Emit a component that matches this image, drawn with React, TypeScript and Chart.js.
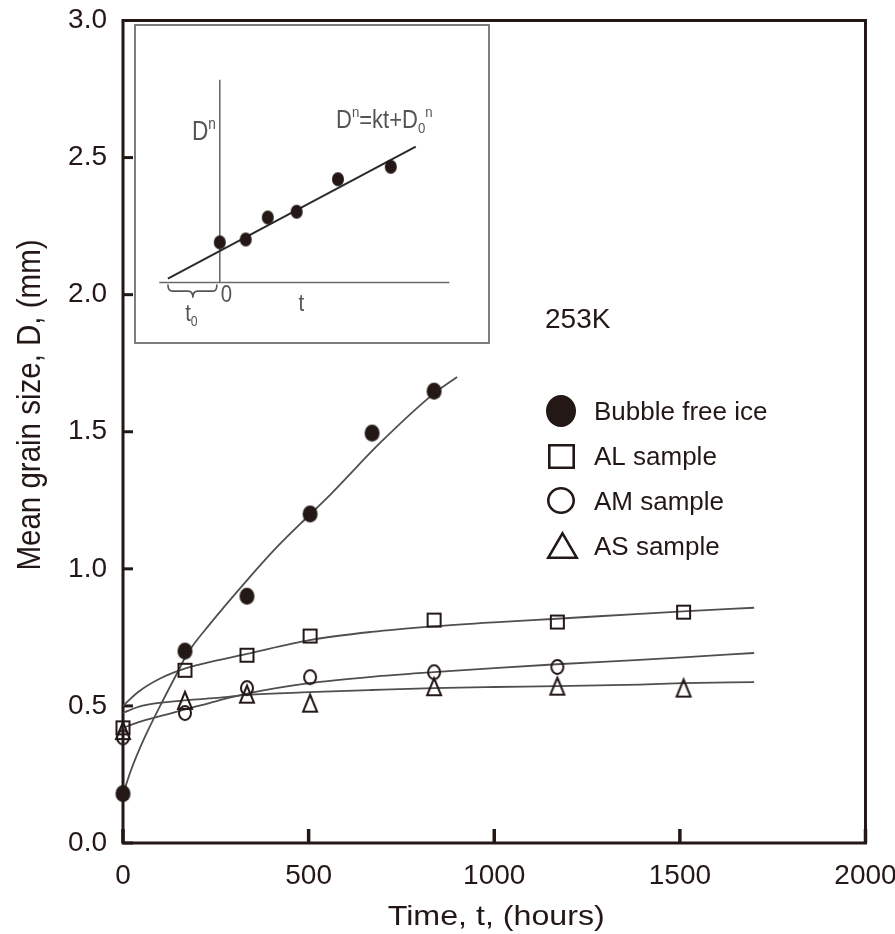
import React, { useEffect, useRef } from 'react';
import { Chart, registerables } from 'chart.js';

Chart.register(...registerables);

const INK = '#231815';
const FIT = '#4f4f4f';
const SANS = "'Liberation Sans', Arial, Helvetica, sans-serif";

// ---------- main chart data ----------
const seriesLabels = ['Bubble free ice', 'AL sample', 'AM sample', 'AS sample'];

const bubbleT = [0, 167, 334, 504, 671, 838];
const bubbleD = [0.18, 0.70, 0.90, 1.20, 1.495, 1.648];

const alT = [0, 167, 334, 504, 838, 1170, 1510];
const alD = [0.42, 0.63, 0.685, 0.755, 0.813, 0.806, 0.842];

const amT = [0, 167, 334, 504, 838, 1170];
const amD = [0.385, 0.474, 0.565, 0.605, 0.623, 0.642];

const asT = [0, 167, 334, 504, 838, 1170, 1510];
const asD = [0.41, 0.52, 0.543, 0.51, 0.57, 0.572, 0.565];

// fitted curves
const bubbleFitT = [3, 20, 55, 100, 146, 173, 235, 335, 415, 505, 558, 693, 838, 900];
const bubbleFitD = [0.19, 0.26, 0.375, 0.5, 0.62, 0.69, 0.8, 0.96, 1.08, 1.2, 1.27, 1.46, 1.64, 1.7];

const alFitT = [0, 40, 100, 168, 250, 334, 502, 670, 836, 1000, 1168, 1392, 1508, 1700];
const alFitD = [0.5, 0.55, 0.6, 0.637, 0.665, 0.69, 0.74, 0.77, 0.79, 0.805, 0.818, 0.836, 0.845, 0.858];

const amFitT = [0, 40, 100, 168, 250, 334, 502, 670, 836, 1000, 1168, 1392, 1508, 1700];
const amFitD = [0.42, 0.44, 0.463, 0.487, 0.517, 0.545, 0.583, 0.606, 0.623, 0.638, 0.652, 0.668, 0.677, 0.693];

const asFitT = [0, 50, 165, 262, 334, 502, 670, 836, 1000, 1168, 1392, 1508, 1700];
const asFitD = [0.475, 0.5, 0.52, 0.53, 0.54, 0.55, 0.558, 0.565, 0.569, 0.572, 0.578, 0.583, 0.587];

const xTickLabels = ['0', '500', '1000', '1500', '2000'];
const yTickLabels = ['0.0', '0.5', '1.0', '1.5', '2.0', '2.5', '3.0'];

const xTitle = 'Time, t, (hours)';
const yTitle = 'Mean grain size, D, (mm)';
const tempLabel = '253K';

// ---------- inset (schematic) data ----------
const insetT = [0, 27, 50, 80, 123, 178];
const insetDn = [42, 45, 68, 74, 108, 121];
const insetFitT = [-54, 204];
const insetFitDn = [4, 142];
const insetVAxisT = [0, 0];
const insetVAxisDn = [0, 212];
const insetHAxisT = [-63, 239];
const insetHAxisDn = [0, 0];

function pts(xs: number[], ys: number[]) {
  return xs.map((x, i) => ({ x, y: ys[i] }));
}

function makeMarker(kind: string, w: number, h: number, lw: number, color: string) {
  const pad = Math.ceil(lw) + 1;
  const c = document.createElement('canvas');
  c.width = Math.round(w + pad * 2);
  c.height = Math.round(h + pad * 2);
  const ctx = c.getContext('2d')!;
  const cx = c.width / 2;
  const cy = c.height / 2;
  ctx.strokeStyle = color;
  ctx.fillStyle = color;
  ctx.lineWidth = lw;
  ctx.lineJoin = 'miter';
  ctx.beginPath();
  if (kind === 'dot') {
    ctx.ellipse(cx, cy, w / 2, h / 2, 0, 0, Math.PI * 2);
    ctx.fill();
  } else if (kind === 'ring') {
    ctx.ellipse(cx, cy, w / 2 - lw / 2, h / 2 - lw / 2, 0, 0, Math.PI * 2);
    ctx.stroke();
  } else if (kind === 'square') {
    ctx.rect(cx - w / 2 + lw / 2, cy - h / 2 + lw / 2, w - lw, h - lw);
    ctx.stroke();
  } else if (kind === 'triangle') {
    ctx.moveTo(cx, cy - h / 2 + lw / 2);
    ctx.lineTo(cx + w / 2 - lw / 2, cy + h / 2 - lw / 2);
    ctx.lineTo(cx - w / 2 + lw / 2, cy + h / 2 - lw / 2);
    ctx.closePath();
    ctx.stroke();
  }
  return c;
}

function stretchText(ctx: CanvasRenderingContext2D, text: string, x: number, y: number, sx: number, align: CanvasTextAlign) {
  ctx.save();
  ctx.translate(x, y);
  ctx.scale(sx, 1);
  ctx.textAlign = align;
  ctx.textBaseline = 'alphabetic';
  ctx.fillText(text, 0, 0);
  ctx.restore();
}

export default function App() {
  const mainRef = useRef<HTMLCanvasElement>(null);
  const insetRef = useRef<HTMLCanvasElement>(null);

  useEffect(() => {
    const dot = makeMarker('dot', 15, 17, 0, INK);
    const sq = makeMarker('square', 15, 15, 2, INK);
    const ring = makeMarker('ring', 14, 16, 2, INK);
    const tri = makeMarker('triangle', 16, 19, 2, INK);
    const legendMarkers = [
      makeMarker('dot', 30, 32, 0, INK),
      makeMarker('square', 27, 25, 2.6, INK),
      makeMarker('ring', 28, 27, 2.6, INK),
      makeMarker('triangle', 31, 27, 2.6, INK),
    ];

    const framePlugin = {
      id: 'frame',
      beforeDatasetsDraw(chart: any) {
        const { ctx, chartArea: a, scales } = chart;
        const x = scales.x;
        const y = scales.y;
        ctx.save();
        ctx.strokeStyle = INK;
        ctx.lineWidth = 3;
        ctx.strokeRect(a.left, a.top, a.right - a.left, a.bottom - a.top);
        ctx.lineWidth = 3.5;
        x.ticks.forEach((_t: any, i: number) => {
          const px = x.getPixelForTick(i);
          ctx.beginPath();
          ctx.moveTo(px, a.bottom);
          ctx.lineTo(px, a.bottom - 14);
          ctx.stroke();
        });
        ctx.lineWidth = 3;
        y.ticks.forEach((_t: any, i: number) => {
          const py = y.getPixelForTick(i);
          ctx.beginPath();
          ctx.moveTo(a.left, py);
          ctx.lineTo(a.left + 10, py);
          ctx.stroke();
        });
        ctx.restore();
      },
      afterDraw(chart: any) {
        const { ctx, chartArea: a } = chart;
        ctx.save();
        ctx.fillStyle = INK;
        // x title
        ctx.font = `28px ${SANS}`;
        stretchText(ctx, xTitle, (a.left + a.right) / 2 + 2, a.bottom + 82, 1.15, 'center');
        // y title
        ctx.save();
        ctx.font = `29.5px ${SANS}`;
        ctx.translate(40, a.top + 0.4675 * (a.bottom - a.top));
        ctx.rotate(-Math.PI / 2);
        ctx.scale(1, 1.12);
        ctx.textAlign = 'center';
        ctx.textBaseline = 'alphabetic';
        ctx.fillText(yTitle, 0, 0);
        ctx.restore();
        // temperature
        ctx.font = `28px ${SANS}`;
        ctx.textAlign = 'left';
        ctx.textBaseline = 'alphabetic';
        ctx.fillText(tempLabel, a.left + 422, 328);
        // legend
        const centers = [411, 456, 500, 545];
        const baselines = [419.5, 465, 510, 555];
        ctx.font = `26px ${SANS}`;
        seriesLabels.forEach((lab, i) => {
          const m = legendMarkers[i];
          const cx = a.left + 438 + (i === 3 ? 1 : 0);
          ctx.drawImage(m, Math.round(cx - m.width / 2), Math.round(centers[i] - m.height / 2));
          ctx.fillText(lab, a.left + 471, baselines[i]);
        });
        ctx.restore();
      },
    };

    const main = new Chart(mainRef.current!, {
      type: 'scatter',
      data: {
        datasets: [
          { label: seriesLabels[0], data: pts(bubbleT, bubbleD), pointStyle: dot as any, pointRadius: 8, showLine: false, clip: false as any },
          { label: seriesLabels[1], data: pts(alT, alD), pointStyle: sq as any, pointRadius: 8, showLine: false, clip: false as any },
          { label: seriesLabels[2], data: pts(amT, amD), pointStyle: ring as any, pointRadius: 8, showLine: false, clip: false as any },
          { label: seriesLabels[3], data: pts(asT, asD), pointStyle: tri as any, pointRadius: 8, showLine: false, clip: false as any },
          { label: 'fit bubble', data: pts(bubbleFitT, bubbleFitD), showLine: true, pointRadius: 0, borderColor: FIT, borderWidth: 1.8, cubicInterpolationMode: 'monotone' },
          { label: 'fit AL', data: pts(alFitT, alFitD), showLine: true, pointRadius: 0, borderColor: FIT, borderWidth: 1.8, cubicInterpolationMode: 'monotone' },
          { label: 'fit AM', data: pts(amFitT, amFitD), showLine: true, pointRadius: 0, borderColor: FIT, borderWidth: 1.8, cubicInterpolationMode: 'monotone' },
          { label: 'fit AS', data: pts(asFitT, asFitD), showLine: true, pointRadius: 0, borderColor: FIT, borderWidth: 1.8, cubicInterpolationMode: 'monotone' },
        ] as any,
      },
      options: {
        animation: false,
        responsive: false,
        devicePixelRatio: 1,
        events: [],
        layout: { padding: { left: 0, top: 20.5, right: 29.5, bottom: 0 } },
        plugins: { legend: { display: false }, tooltip: { enabled: false } },
        scales: {
          x: {
            type: 'linear',
            min: 0,
            max: 2000,
            afterBuildTicks: (s: any) => { s.ticks = xTickLabels.map((l) => ({ value: parseFloat(l) })); },
            ticks: {
              color: INK,
              font: { size: 28, family: SANS },
              padding: 16,
              maxRotation: 0,
              autoSkip: false,
              callback: (v: any) => xTickLabels.find((l) => parseFloat(l) === Number(v)) ?? String(v),
            },
            grid: { display: false, drawTicks: false },
            border: { display: false },
            afterFit: (s: any) => { s.height = 91; s.paddingLeft = 0; s.paddingRight = 0; },
          },
          y: {
            type: 'linear',
            min: 0,
            max: 3,
            afterBuildTicks: (s: any) => { s.ticks = yTickLabels.map((l) => ({ value: parseFloat(l) })); },
            ticks: {
              color: INK,
              font: { size: 28, family: SANS },
              padding: 16,
              autoSkip: false,
              callback: (v: any) => yTickLabels.find((l) => parseFloat(l) === Number(v)) ?? String(v),
            },
            grid: { display: false, drawTicks: false },
            border: { display: false },
            afterFit: (s: any) => { s.width = 123; s.paddingTop = 0; s.paddingBottom = 0; },
          },
        } as any,
      },
      plugins: [framePlugin],
    });

    // ---------- inset ----------
    const smallDot = makeMarker('dot', 12, 14, 0, INK);
    const insetPlugin = {
      id: 'insetDeco',
      beforeDraw(chart: any) {
        const { ctx, width, height } = chart;
        ctx.save();
        ctx.fillStyle = '#ffffff';
        ctx.fillRect(0, 0, width, height);
        ctx.restore();
      },
      afterDraw(chart: any) {
        const { ctx, width, height, scales } = chart;
        const x = scales.x;
        const y = scales.y;
        ctx.save();
        ctx.strokeStyle = '#707070';
        ctx.lineWidth = 1.8;
        ctx.strokeRect(1, 1, width - 2, height - 2);

        const gray = '#555555';
        ctx.fillStyle = gray;
        ctx.textBaseline = 'alphabetic';
        ctx.textAlign = 'left';
        const runs = (parts: { t: string; k?: string }[], px: number, py: number, size: number, sx: number) => {
          ctx.save();
          ctx.translate(px, py);
          ctx.scale(sx, 1);
          let cx = 0;
          parts.forEach((p) => {
            const s = p.k ? size * 0.6 : size;
            ctx.font = `${s}px ${SANS}`;
            const dy = p.k === 'sup' ? -size * 0.42 : p.k === 'sub' ? size * 0.22 : 0;
            ctx.fillText(p.t, cx, dy);
            cx += ctx.measureText(p.t).width;
          });
          ctx.restore();
        };
        runs([{ t: 'D' }, { t: 'n', k: 'sup' }], x.getPixelForValue(-29), y.getPixelForValue(149), 27, 0.84);
        runs(
          [{ t: 'D' }, { t: 'n', k: 'sup' }, { t: '=kt+D' }, { t: '0', k: 'sub' }, { t: 'n', k: 'sup' }],
          x.getPixelForValue(121),
          y.getPixelForValue(162),
          25,
          0.88
        );
        runs([{ t: '0' }], x.getPixelForValue(1), y.getPixelForValue(-20), 24, 0.85);
        runs([{ t: 't' }], x.getPixelForValue(82), y.getPixelForValue(-30), 24, 0.85);
        runs([{ t: 't' }, { t: '0', k: 'sub' }], x.getPixelForValue(-36), y.getPixelForValue(-40), 24, 0.85);

        // brace under the negative time segment
        const X = (v: number) => x.getPixelForValue(v);
        const Y = (v: number) => y.getPixelForValue(v);
        ctx.strokeStyle = gray;
        ctx.lineWidth = 1.6;
        ctx.beginPath();
        ctx.moveTo(X(-54), Y(-2));
        ctx.quadraticCurveTo(X(-54), Y(-9), X(-49), Y(-9));
        ctx.lineTo(X(-33), Y(-9));
        ctx.quadraticCurveTo(X(-28), Y(-9), X(-28), Y(-16));
        ctx.quadraticCurveTo(X(-28), Y(-9), X(-23), Y(-9));
        ctx.lineTo(X(-7), Y(-9));
        ctx.quadraticCurveTo(X(-3), Y(-9), X(-3), Y(-2));
        ctx.stroke();
        ctx.restore();
      },
    };

    const inset = new Chart(insetRef.current!, {
      type: 'scatter',
      data: {
        datasets: [
          { label: 'data', data: pts(insetT, insetDn), pointStyle: smallDot as any, pointRadius: 6, showLine: false, clip: false as any },
          { label: 'fit', data: pts(insetFitT, insetFitDn), showLine: true, pointRadius: 0, borderColor: '#2b2b2b', borderWidth: 2 },
          { label: 'v axis', data: pts(insetVAxisT, insetVAxisDn), showLine: true, pointRadius: 0, borderColor: '#6a6a6a', borderWidth: 1.6 },
          { label: 'h axis', data: pts(insetHAxisT, insetHAxisDn), showLine: true, pointRadius: 0, borderColor: '#6a6a6a', borderWidth: 1.6 },
        ] as any,
      },
      options: {
        animation: false,
        responsive: false,
        devicePixelRatio: 1,
        events: [],
        layout: { padding: 0 },
        plugins: { legend: { display: false }, tooltip: { enabled: false } },
        scales: {
          x: { type: 'linear', min: -82, max: 274, display: false },
          y: { type: 'linear', min: -57, max: 263, display: false },
        },
      },
      plugins: [insetPlugin],
    });

    return () => {
      main.destroy();
      inset.destroy();
    };
  }, []);

  return (
    <div style={{ position: 'absolute', left: 0, top: 0, width: 895, height: 934, background: '#ffffff', overflow: 'hidden' }}>
      <canvas ref={mainRef} width={895} height={934} style={{ position: 'absolute', left: 0, top: 0 }} />
      <canvas ref={insetRef} width={356} height={320} style={{ position: 'absolute', left: 134, top: 24 }} />
    </div>
  );
}
